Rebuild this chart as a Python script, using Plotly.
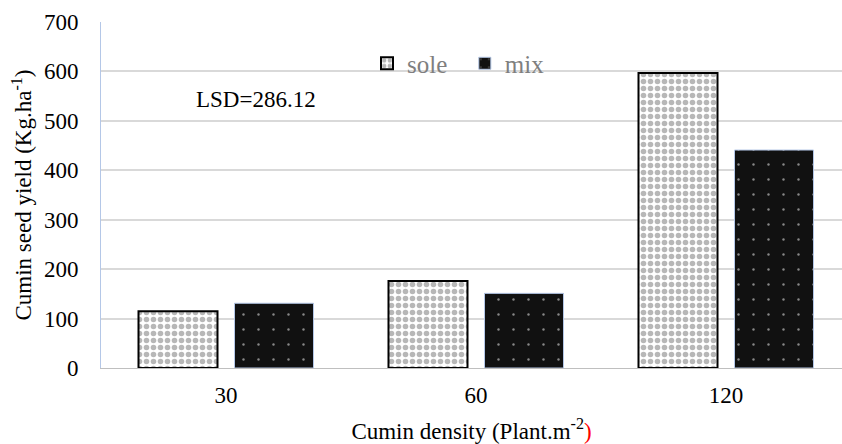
import plotly.graph_objects as go

categories = ["30", "60", "120"]
sole = [115, 176, 597]
mix = [131, 151, 441]
y_ticks = [0, 100, 200, 300, 400, 500, 600, 700]

FONT = "Liberation Serif, Times New Roman, serif"

fig = go.Figure()
fig.add_trace(go.Bar(
    x=categories, y=sole, name="sole", legend="legend",
    marker=dict(color="white",
                line=dict(color="black", width=2),
                pattern=dict(shape=".", fgcolor="#707070", bgcolor="white",
                             size=7, solidity=0.5)),
))
fig.add_trace(go.Bar(
    x=categories, y=mix, name="mix", legend="legend2",
    marker=dict(color="#111111",
                line=dict(color="#b4c7e7", width=1),
                pattern=dict(shape=".", fgcolor="white", bgcolor="#111111",
                             size=15, solidity=0.02)),
))

leg_common = dict(orientation="h", yanchor="middle", xanchor="left",
                  font=dict(family=FONT, size=25, color="#7f7f7f"),
                  bgcolor="rgba(0,0,0,0)", itemwidth=30)

fig.update_layout(
    width=842, height=444,
    margin=dict(l=101, r=0, t=22, b=76),
    paper_bgcolor="white", plot_bgcolor="white",
    barmode="group", bargap=0.232, bargroupgap=0.177,
    font=dict(family=FONT, size=23, color="black"),
    showlegend=True,
    legend=dict(x=0.359, y=0.88, **leg_common),
    legend2=dict(x=0.491, y=0.88, **leg_common),
    xaxis=dict(type="category", range=[-0.5, 2.464],
               showline=True, linecolor="#bfbfbf", linewidth=1,
               ticks="", tickfont=dict(family=FONT, size=23), ticklabelstandoff=6,
               title=dict(text='Cumin density (Plant.m<sup>-2</sup><span style="color:red">)</span>',
                          font=dict(family=FONT, size=23), standoff=17)),
    yaxis=dict(range=[0, 700], tickvals=y_ticks,
               showgrid=True, gridcolor="#d9d9d9", gridwidth=1.5,
               showline=True, linecolor="#b4c7e7", linewidth=1,
               zeroline=False, ticks="", tickfont=dict(family=FONT, size=23),
               ticklabelstandoff=17,
               title=dict(text="Cumin seed yield (Kg.ha<sup>-1</sup>)",
                          font=dict(family=FONT, size=23), standoff=5)),
    annotations=[dict(text="LSD=286.12", x=0.126, y=0.775, xref="paper", yref="paper",
                      xanchor="left", yanchor="middle", showarrow=False,
                      font=dict(family=FONT, size=23, color="black"))],
)

fig.write_html("out.html")
